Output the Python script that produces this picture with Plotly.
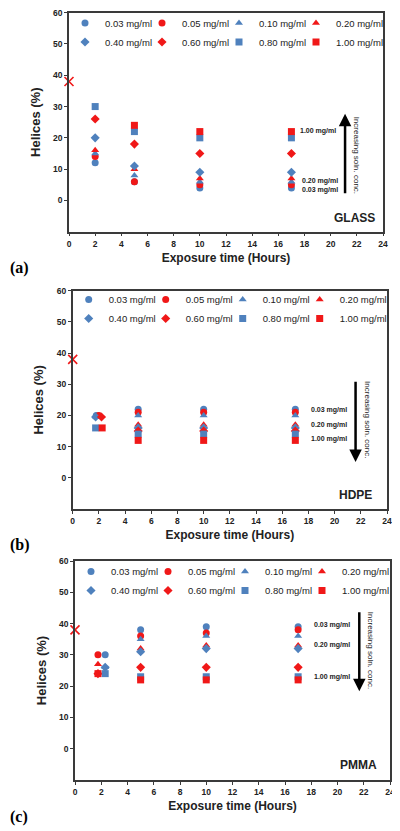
import plotly.graph_objects as go

# ---------------- data ----------------
hours = [2, 5, 10, 17]
concentrations = ["0.03 mg/ml", "0.05 mg/ml", "0.10 mg/ml", "0.20 mg/ml",
                  "0.40 mg/ml", "0.60 mg/ml", "0.80 mg/ml", "1.00 mg/ml"]

control_hours = [0]
control_helices = [38]

glass_helices = [
    [12, 6, 4, 4],
    [14, 6, 5, 5],
    [15, 8, 6, 6],
    [16, 10, 7, 7],
    [20, 11, 9, 9],
    [26, 18, 15, 15],
    [30, 22, 20, 20],
    [None, 24, 22, 22],
]

hdpe_first_hour = [1.8, 2.0, 1.8, 2.0, 1.75, 2.2, 1.75, 2.25]
hdpe_helices = [
    [20, 22, 22, 22],
    [20, 21, 21, 21],
    [19.5, 20, 20, 20],
    [20, 17, 17, 17],
    [19.5, 16, 16, 16],
    [19.5, 15, 15, 15],
    [16, 14, 14, 14],
    [16, 12, 12, 12],
]

pmma_first_hour = [2.3, 1.75, 2.3, 1.75, 2.3, 1.75, 2.3, 1.75]
pmma_helices = [
    [30, 38, 39, 39],
    [30, 36, 37, 38],
    [26, 35, 36, 36],
    [27, 32, 33, 33],
    [26, 31, 32, 32],
    [24, 26, 26, 26],
    [24, 23, 23, 23],
    [24, 22, 22, 22],
]

x_ticks = list(range(0, 25, 2))
y_ticks = [0, 10, 20, 30, 40, 50, 60]

# ---------------- styles ----------------
BLUE = "#4F81BD"
RED = "#F01818"
colors = [BLUE, RED] * 4
symbols = ["circle", "circle", "triangle-up", "triangle-up",
           "diamond", "diamond", "square", "square"]
FONT = "Arial, 'Liberation Sans', sans-serif"

OFF = 8                      # page body margin of the html page
W, H = 400 - OFF, 831 - OFF
ML, MR = 0, 0
PW = W - ML - MR


def fx(px):
    return (px - OFF - ML) / PW


def fy(px):
    return 1 - (px - OFF) / H


panels = [
    dict(label="GLASS", values=glass_helices, first=None,
         x0=69, x1=383, top=12.7, bot=231.7, letter="(a)", letter_y=268,
         arrow=(21.1, 1.8, 27.7), arrow_text=(21.94, 14.6),
         notes=[("1.00 mg/ml", 17.5, 22.3), ("0.20 mg/ml", 17.66, 6.3), ("0.03 mg/ml", 17.66, 3.4)],
         name_pos=(23.55, -5.6), leg_top=8.5),
    dict(label="HDPE", values=hdpe_helices, first=hdpe_first_hour,
         x0=72.7, x1=387, top=290.7, bot=509, letter="(b)", letter_y=545,
         arrow=(21.6, 31.3, 5.1), arrow_text=(22.45, 18.6),
         notes=[("0.03 mg/ml", 18.04, 21.7), ("0.20 mg/ml", 18.04, 17.0), ("1.00 mg/ml", 18.04, 12.3)],
         name_pos=(23.0, -5.55), leg_top=285),
    dict(label="PMMA", values=pmma_helices, first=pmma_first_hour,
         x0=75, x1=390, top=561, bot=780, letter="(c)", letter_y=817,
         arrow=(21.66, 44.1, 18.4), arrow_text=(22.48, 31.6),
         notes=[("0.03 mg/ml", 18.08, 39.7), ("0.20 mg/ml", 18.08, 33.3), ("1.00 mg/ml", 18.08, 23.0)],
         name_pos=(23.18, -5.1), leg_top=557),
]

fig = go.Figure()
annotations = []
layout = {}

for p_i, p in enumerate(panels):
    n = "" if p_i == 0 else str(p_i + 1)
    xref, yref = "x" + n, "y" + n
    legname = "legend" + n
    for s_i, conc in enumerate(concentrations):
        xs = list(hours)
        if p["first"] is not None:
            xs[0] = p["first"][s_i]
        rank = s_i + 1 + (1 if s_i >= 4 else 0)
        fig.add_trace(go.Scatter(
            x=xs, y=p["values"][s_i], mode="markers", name=conc,
            xaxis=xref, yaxis=yref, legend=legname, legendrank=rank, cliponaxis=False,
            marker=dict(symbol=symbols[s_i], color=colors[s_i], size=7, line=dict(width=0)),
        ))
    # blank spacer entries closing each legend row (keep last column text unclipped)
    for rank in (5, 10):
        fig.add_trace(go.Scatter(
            x=[None], y=[None], mode="markers", name=" ", xaxis=xref, yaxis=yref,
            legend=legname, legendrank=rank, hoverinfo="skip",
            marker=dict(opacity=0, size=1, color="white"),
        ))
    fig.add_trace(go.Scatter(
        x=control_hours, y=control_helices, mode="markers", showlegend=False,
        xaxis=xref, yaxis=yref, cliponaxis=False, name="control",
        marker=dict(symbol="x-thin", size=9, line=dict(width=1.6, color=RED), color=RED),
    ))

    axis_common = dict(showline=True, linecolor="#3a3a3a", linewidth=1.5, mirror=True,
                       showgrid=False, zeroline=False, ticks="outside", ticklen=3,
                       tickcolor="#3a3a3a", automargin=False, ticklabeloverflow="allow",
                       tickfont=dict(family=FONT, size=8.5, color="#222", weight="bold"))
    layout["xaxis" + n] = dict(
        axis_common, domain=[fx(p["x0"]), fx(p["x1"])], anchor=yref,
        range=[0, 24], tickvals=x_ticks,
        title=dict(text="<b>Exposure time (Hours)</b>", standoff=6,
                   font=dict(family=FONT, size=12, color="#222")),
    )
    layout["yaxis" + n] = dict(
        axis_common, domain=[fy(p["bot"]), fy(p["top"])], anchor=xref,
        range=[-10, 60], tickvals=y_ticks,
        title=dict(text="<b>Helices (%)</b>", standoff=10,
                   font=dict(family=FONT, size=13, color="#222")),
    )
    layout[legname] = dict(
        orientation="h", entrywidth=32, x=fx(p["x0"] - 4), xanchor="left",
        y=fy(p["leg_top"]), yanchor="top", bgcolor="rgba(0,0,0,0)",
        font=dict(family=FONT, size=9.5, color="#222"), tracegroupgap=0,
    )

    ax, y_tail, y_tip = p["arrow"]
    annotations.append(dict(
        x=ax, y=y_tip, ax=ax, ay=y_tail, xref=xref, yref=yref, axref=xref, ayref=yref,
        text="", showarrow=True, arrowhead=2, arrowsize=1, arrowwidth=2.5, arrowcolor="#000",
    ))
    tx, ty = p["arrow_text"]
    annotations.append(dict(
        x=tx, y=ty, xref=xref, yref=yref, text="Increasing soln. conc.", showarrow=False,
        textangle=90, font=dict(family=FONT, size=8, color="#222"),
    ))
    for txt, nx, ny in p["notes"]:
        annotations.append(dict(
            x=nx, y=ny, xref=xref, yref=yref, text="<b>" + txt + "</b>", showarrow=False,
            xanchor="left", font=dict(family=FONT, size=7, color="#222"),
        ))
    annotations.append(dict(
        x=p["name_pos"][0], y=p["name_pos"][1], xref=xref, yref=yref,
        text="<b>" + p["label"] + "</b>", showarrow=False, xanchor="right",
        font=dict(family=FONT, size=12, color="#222"),
    ))
    annotations.append(dict(
        x=fx(8), y=fy(p["letter_y"]), xref="paper", yref="paper", xanchor="left",
        yanchor="middle", text="<b>" + p["letter"] + "</b>", showarrow=False,
        font=dict(family="'Liberation Serif', 'Times New Roman', serif", size=16, color="#000"),
    ))

fig.update_layout(
    width=W, height=H, margin=dict(l=ML, r=MR, t=0, b=0, autoexpand=False),
    paper_bgcolor="white", plot_bgcolor="white",
    annotations=annotations, **layout,
)

fig.write_html("out.html")
